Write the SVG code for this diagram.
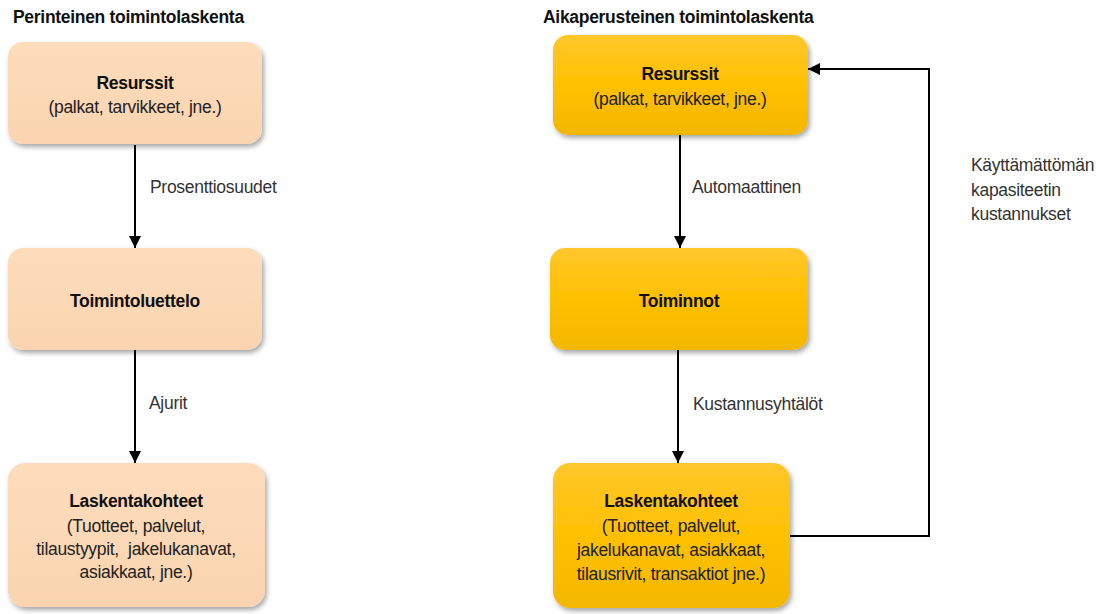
<svg xmlns="http://www.w3.org/2000/svg" width="1102" height="614" viewBox="0 0 1102 614">
<defs>
<linearGradient id="peach" x1="0" y1="0" x2="0" y2="1">
<stop offset="0" stop-color="#FDDCBC"/>
<stop offset="1" stop-color="#FAD4B0"/>
</linearGradient>
<linearGradient id="gold" x1="0" y1="0" x2="0" y2="1">
<stop offset="0" stop-color="#FFC72C"/>
<stop offset="0.5" stop-color="#FFC000"/>
<stop offset="1" stop-color="#F2B700"/>
</linearGradient>
<filter id="sh" x="-10%" y="-10%" width="125%" height="130%">
<feDropShadow dx="2" dy="3" stdDeviation="2.5" flood-color="#000" flood-opacity="0.35"/>
</filter>
<marker id="arr" viewBox="0 0 12 12" refX="12" refY="6" markerWidth="12" markerHeight="12" markerUnits="userSpaceOnUse" orient="auto">
<path d="M0,0 L12,6 L0,12 Z" fill="#000"/>
</marker>
<style>
text{font-family:"Liberation Sans",Arial,sans-serif;font-size:17.5px;letter-spacing:-0.3px;}
.t{font-weight:bold;fill:#111;}
.b{font-weight:bold;fill:#111;text-anchor:middle;}
.s{fill:#222;text-anchor:middle;}
.l{fill:#333;}
.bp{fill:url(#peach);filter:url(#sh);}
.bg{fill:url(#gold);filter:url(#sh);}
.c{fill:none;stroke:#000;stroke-width:2;}
</style>
</defs>
<rect width="1102" height="614" fill="#fff"/>
<text class="t" x="13" y="23">Perinteinen toimintolaskenta</text>
<text class="t" x="543" y="23">Aikaperusteinen toimintolaskenta</text>

<g id="connectors">
<line class="c" x1="135" y1="145" x2="135" y2="248" marker-end="url(#arr)"/>
<line class="c" x1="135" y1="350" x2="135" y2="463" marker-end="url(#arr)"/>
<line class="c" x1="680" y1="135" x2="680" y2="248" marker-end="url(#arr)"/>
<line class="c" x1="678" y1="350" x2="678" y2="463" marker-end="url(#arr)"/>
<polyline class="c" points="790,536 929,536 929,69 808,69" marker-end="url(#arr)"/>
<text class="l" x="150" y="193">Prosenttiosuudet</text>
<text class="l" x="149" y="409">Ajurit</text>
<text class="l" x="692" y="193">Automaattinen</text>
<text class="l" x="693" y="410">Kustannusyhtälöt</text>
<text class="l" x="971" y="171">Käyttämättömän</text>
<text class="l" x="971" y="196">kapasiteetin</text>
<text class="l" x="971" y="220">kustannukset</text>
</g>

<g id="n-resurssit-l">
<rect class="bp" x="8" y="42" width="254" height="102" rx="15"/>
<text class="b" x="135" y="89">Resurssit</text>
<text class="s" x="135" y="113">(palkat, tarvikkeet, jne.)</text>
</g>
<g id="n-toimintoluettelo">
<rect class="bp" x="8" y="248" width="254" height="102" rx="15"/>
<text class="b" x="135" y="307">Toimintoluettelo</text>
</g>
<g id="n-laskentakohteet-l">
<rect class="bp" x="8" y="463" width="257" height="144" rx="17"/>
<text class="b" x="136" y="507">Laskentakohteet</text>
<text class="s" x="136" y="532">(Tuotteet, palvelut,</text>
<text class="s" x="136" y="555">tilaustyypit,&#160; jakelukanavat,</text>
<text class="s" x="136" y="578">asiakkaat, jne.)</text>
</g>

<g id="n-resurssit-r">
<rect class="bg" x="553" y="35" width="255" height="100" rx="15"/>
<text class="b" x="680" y="80">Resurssit</text>
<text class="s" x="680" y="105">(palkat, tarvikkeet, jne.)</text>
</g>
<g id="n-toiminnot">
<rect class="bg" x="550" y="248" width="258" height="102" rx="15"/>
<text class="b" x="679" y="307">Toiminnot</text>
</g>
<g id="n-laskentakohteet-r">
<rect class="bg" x="553" y="463" width="237" height="145" rx="17"/>
<text class="b" x="671" y="507">Laskentakohteet</text>
<text class="s" x="671" y="532">(Tuotteet, palvelut,</text>
<text class="s" x="671" y="556">jakelukanavat, asiakkaat,</text>
<text class="s" x="671" y="580">tilausrivit, transaktiot jne.)</text>
</g>
</svg>
